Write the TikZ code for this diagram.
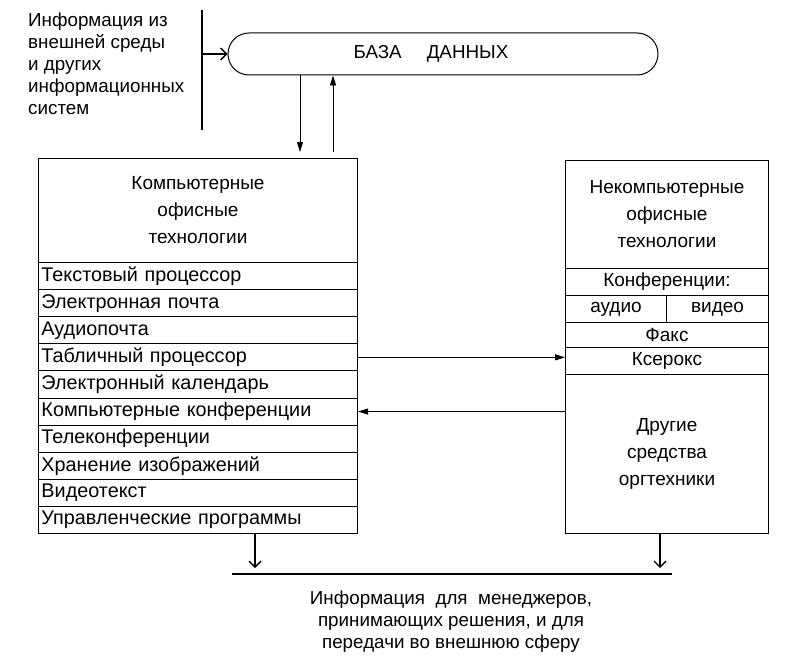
\documentclass[tikz,border=0pt]{standalone}
\usepackage{fontspec}
\setmainfont{Liberation Sans}
\usetikzlibrary{arrows.meta,positioning}
\tikzset{
    txt/.style={
    font=\fontsize{18.8}{22}\selectfont,inner sep=0pt
    },
    head/.style={
    rectangle,draw=black,line width=1pt,anchor=north west,align=center,
    font=\fontsize{19}{27}\selectfont
    },
    lrow/.style={
    rectangle,draw=black,line width=1pt,anchor=north west,minimum width=319pt,
    minimum height=27.1pt,text width=313pt,inner xsep=3pt,inner ysep=0pt,align=left,
    font=\fontsize{19.8}{20}\selectfont
    },
    rrow/.style={
    rectangle,draw=black,line width=1pt,anchor=north west,inner sep=0pt,
    align=center,font=\fontsize{19}{20}\selectfont
    },
    base/.style={
    rectangle,rounded corners=21pt,draw=black,line width=1pt,
    minimum width=430pt,minimum height=42pt
    },
    farrow/.style={
    line width=0.9pt,-{Triangle[length=10pt,width=6pt]}
    },
    oarrow/.style={
    line width=1.4pt,-{Straight Barb[length=6pt,width=12pt,line width=1.4pt]}
    },
}
\begin{document}
\begin{tikzpicture}[x=1pt,y=-1pt]
   \useasboundingbox (0,0) rectangle (809,669);
   % source of outer information
   \node[txt,anchor=north west,align=left] (src) at (28,13)
     {Информация из\\внешней среды\\и других\\информационных\\систем};
   \coordinate (st) at (202,10);
   \coordinate (sb) at (202,130);
   \draw[line width=2.2pt] (st) -- (sb);
   % database
   \node[base,label={[txt,xshift=-12pt]center:БАЗА\hspace{25pt}ДАННЫХ}] (db) at (443,54) {};
   \draw[oarrow] (st |- db.west) -- (db.west);
   % computer technologies
   \node[head,minimum width=319pt,minimum height=104pt] (lhead) at (38,158)
     {Компьютерные\\офисные\\технологии};
   \foreach \name [count=\i] in {Текстовый процессор,Электронная почта,Аудиопочта,
       Табличный процессор,Электронный календарь,Компьютерные конференции,
       Телеконференции,Хранение изображений,Видеотекст,Управленческие программы}
     \node[lrow] (l\i) at (38,{262+(\i-1)*27.1}) {\name};
   % non-computer technologies
   \node[head,minimum width=203pt,minimum height=108pt] (rhead) at (565,160)
     {Некомпьютерные\\офисные\\технологии};
   \node[rrow,minimum width=203pt,minimum height=27pt] (conf) at (565,268) {Конференции:};
   \node[rrow,minimum width=101pt,minimum height=27pt] (audio) at (565,295) {аудио};
   \node[rrow,minimum width=102pt,minimum height=27pt] (video) at (666,295) {видео};
   \node[rrow,minimum width=203pt,minimum height=25pt] (fax) at (565,322) {Факс};
   \node[rrow,minimum width=203pt,minimum height=27pt] (xerox) at (565,347) {Ксерокс};
   \node[rrow,minimum width=203pt,minimum height=159pt,font=\fontsize{19}{27}\selectfont] (other) at (565,374)
     {Другие\\средства\\оргтехники};
   % links with the database
   \coordinate (dn) at (300,152);
   \coordinate (up) at (333,152);
   \draw[farrow] (db.south -| dn) -- (dn);
   \draw[farrow] (up) -- (db.south -| up);
   % links between blocks
   \draw[farrow] (l4.east) -- (l4.east -| xerox.west);
   \draw[farrow] (l6.east -| other.west) -- (l6.east);
   % output
   \coordinate (ol) at (232,574);
   \coordinate (or) at (672,574);
   \coordinate (ta) at (255,568);
   \coordinate (tb) at (660,568);
   \draw[line width=1.6pt] (ol) -- (or);
   \draw[oarrow] (l10.south -| ta) -- (ta);
   \draw[oarrow] (other.south -| tb) -- (tb);
   \node[txt,align=center,anchor=north] (res) at (451,591)
     {Информация\ \ для\ \ менеджеров,\\принимающих решения, и для\\передачи во внешнюю сферу};
\end{tikzpicture}
\end{document}
